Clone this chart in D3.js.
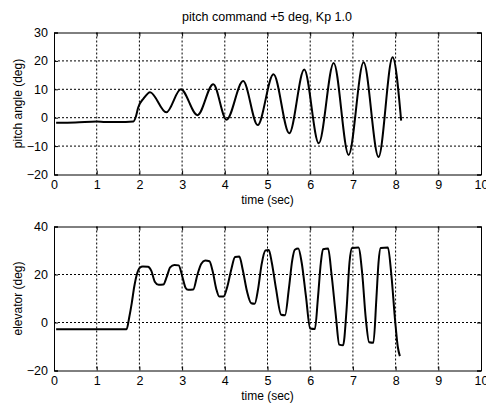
<!DOCTYPE html>
<html>
<head>
<meta charset="utf-8">
<script src="https://cdn.jsdelivr.net/npm/d3@7"></script>
<style>
  html, body { margin: 0; padding: 0; background: #fff; }
  svg { display: block; }
  text { font-family: "Liberation Sans", Arial, sans-serif; fill: #000; }
</style>
</head>
<body>
<svg id="chart" width="486" height="403"></svg>
<script>
// ---- data ----
const titleText = "pitch command +5 deg, Kp 1.0";
const xTicks = [0, 1, 2, 3, 4, 5, 6, 7, 8, 9, 10];
const pitchTicks = [-20, -10, 0, 10, 20, 30];
const elevTicks = [-20, 0, 20, 40];

const pitchTime = [0.05, 0.5, 1.0, 1.2, 1.5, 1.86, 1.92, 1.97, 2.1, 2.25, 2.63, 2.97, 3.36, 3.73, 4.04, 4.43, 4.77, 5.14, 5.51, 5.86, 6.2, 6.55, 6.9, 7.25, 7.6, 7.93, 8.13];
const pitchVal  = [-1.8, -1.7, -1.3, -1.5, -1.5, -1.3, 0.5, 3.5, 6.8, 9.0, 1.9, 10.0, 0.9, 11.8, -0.7, 12.9, -2.6, 15.3, -5.5, 17.0, -9.0, 19.3, -13.1, 19.5, -13.8, 21.3, -1.0];

const elevTime = [0.05, 1.0, 1.70, 1.76, 1.82, 1.88, 1.94, 2.01, 2.08, 2.2, 2.28, 2.36, 2.45, 2.56, 2.64, 2.72, 2.82, 2.92, 3.0, 3.08, 3.14, 3.26, 3.36, 3.45, 3.54, 3.64, 3.72, 3.80, 3.87, 3.97, 4.06, 4.15, 4.24, 4.34, 4.42, 4.52, 4.62, 4.70, 4.78, 4.86, 4.95, 5.03, 5.10, 5.2, 5.32, 5.41, 5.5, 5.58, 5.64, 5.72, 5.80, 5.9, 6.0, 6.11, 6.18, 6.25, 6.3, 6.42, 6.5, 6.6, 6.68, 6.77, 6.85, 6.92, 6.98, 7.13, 7.22, 7.3, 7.38, 7.48, 7.55, 7.6, 7.65, 7.82, 7.9, 7.99, 8.05, 8.1];
const elevVal  = [-2.8, -2.8, -2.8, 2, 8, 15, 20, 22.8, 23.3, 23.2, 21.5, 17, 15.7, 15.8, 19, 23, 24, 23.8, 19.5, 14.5, 13.6, 13.7, 20, 24.5, 25.8, 25.5, 21, 14, 10.8, 10.8, 15, 22, 27.3, 27.5, 22, 13, 8, 7.8, 14, 24, 30, 30.2, 25, 14, 3.2, 3, 14, 26, 30.3, 30.8, 25, 11, -2.5, -2.7, 10, 25, 30.5, 30.8, 20, 3, -9.2, -9.5, 5, 25, 31, 31.3, 20, 2, -8.2, -8.4, 10, 25, 31, 31.3, 20, 0.5, -10, -14];

// ---- drawing ----
const svg = d3.select("#chart");
const left = 54, right = 481;

function panel(cfg) {
  const x = d3.scaleLinear().domain([0, 10]).range([left, right]);
  const y = d3.scaleLinear().domain(cfg.yDomain).range([cfg.bottom, cfg.top]);
  const g = svg.append("g");

  // grid
  g.append("g").selectAll("line").data(xTicks.slice(1, -1)).join("line")
    .attr("x1", d => x(d)).attr("x2", d => x(d))
    .attr("y1", cfg.top).attr("y2", cfg.bottom)
    .attr("stroke", "#000").attr("stroke-width", 1).attr("stroke-dasharray", "2,2");
  g.append("g").selectAll("line").data(cfg.yTicks.slice(1, -1)).join("line")
    .attr("y1", d => y(d)).attr("y2", d => y(d))
    .attr("x1", left).attr("x2", right)
    .attr("stroke", "#000").attr("stroke-width", 1).attr("stroke-dasharray", "2,2");

  // axes
  const xAxis = d3.axisBottom(x).tickValues(xTicks).tickSize(-4).tickPadding(6).tickFormat(d3.format("d"));
  const xAxisTop = d3.axisTop(x).tickValues(xTicks).tickSize(-4).tickFormat("");
  const yAxis = d3.axisLeft(y).tickValues(cfg.yTicks).tickSize(-4).tickPadding(6).tickFormat(d3.format("d"));
  const yAxisR = d3.axisRight(y).tickValues(cfg.yTicks).tickSize(-4).tickFormat("");

  const gx = g.append("g").attr("transform", `translate(0,${cfg.bottom})`).call(xAxis);
  const gxt = g.append("g").attr("transform", `translate(0,${cfg.top})`).call(xAxisTop);
  const gy = g.append("g").attr("transform", `translate(${left},0)`).call(yAxis);
  const gyr = g.append("g").attr("transform", `translate(${right},0)`).call(yAxisR);
  [gx, gxt, gy, gyr].forEach(a => {
    a.selectAll(".domain").attr("stroke", "#000").attr("stroke-width", 1);
    a.selectAll(".tick line").attr("stroke", "#000");
    a.selectAll("text").style("font-family", "'Liberation Sans', Arial, sans-serif")
      .style("font-size", "12.5px").attr("fill", "#000");
  });

  // line
  const pts = cfg.t.map((t, i) => [t, cfg.v[i]]);
  g.append("path").datum(pts)
    .attr("fill", "none").attr("stroke", "#000").attr("stroke-width", 2)
    .attr("stroke-linejoin", "round")
    .attr("d", d3.line().x(d => x(d[0])).y(d => y(d[1])).curve(d3.curveMonotoneX));

  // labels
  g.append("text").attr("x", (left + right) / 2).attr("y", cfg.bottom + 29)
    .attr("text-anchor", "middle").style("font-size", "12px").text("time (sec)");
  g.append("text")
    .attr("transform", `translate(22,${(cfg.top + cfg.bottom) / 2}) rotate(-90)`)
    .attr("text-anchor", "middle").style("font-size", "12px").text(cfg.ylabel);
}

panel({ top: 32.5, bottom: 174.5, yDomain: [-20, 30], yTicks: pitchTicks,
        t: pitchTime, v: pitchVal, ylabel: "pitch angle (deg)" });
panel({ top: 226.5, bottom: 370.5, yDomain: [-20, 40], yTicks: elevTicks,
        t: elevTime, v: elevVal, ylabel: "elevator (deg)" });

svg.append("text").attr("x", 267).attr("y", 21).attr("text-anchor", "middle")
  .style("font-size", "12.5px").text(titleText);
</script>
</body>
</html>
